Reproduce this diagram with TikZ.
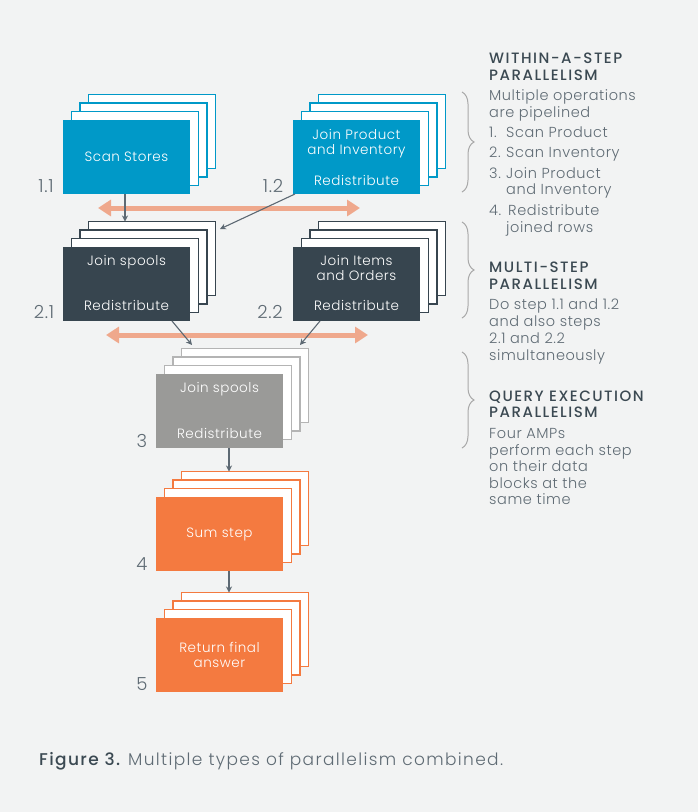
\documentclass[tikz,border=0pt]{standalone}
\usepackage{fontspec}
\IfFontExistsTF{Poppins Light}{%
  \IfFontExistsTF{Poppins Medium}%
    {\setmainfont{Poppins}[UprightFont=* Light, BoldFont=* Medium]}%
    {\setmainfont{Poppins}[UprightFont=* Light]}%
}{\setmainfont{Poppins}}
\usetikzlibrary{arrows.meta,decorations.pathreplacing}

\definecolor{bg}{HTML}{F2F3F3}
\definecolor{stepblue}{HTML}{0099C8}
\definecolor{stepdark}{HTML}{37454F}
\definecolor{stepgrey}{HTML}{9A9A98}
\definecolor{stepgreyline}{HTML}{B4B4B4}
\definecolor{steporange}{HTML}{F47A40}
\definecolor{salmon}{HTML}{EFA88C}
\definecolor{arrowgray}{HTML}{5D6973}
\definecolor{labelgray}{HTML}{5F6B74}
\definecolor{textgray}{HTML}{5F6B74}
\definecolor{headgray}{HTML}{3B4952}
\definecolor{bracegray}{HTML}{A9A9A9}

\tikzset{
  layerbox/.style={line width=1.8pt, fill=white, minimum width=127pt, minimum height=74pt,
    anchor=north west, inner sep=0pt, outer sep=0pt},
  frontbox/.style={minimum width=127pt, minimum height=74pt, anchor=north west,
    inner sep=0pt, outer sep=0pt},
  boxtext/.style={text=white, font=\fontsize{13.5}{15.5}\selectfont\addfontfeature{LetterSpace=4},
    anchor=base, inner sep=0pt},
  steplabel/.style={text=labelgray, font=\fontsize{18}{20}\selectfont\addfontfeature{LetterSpace=4},
    inner sep=0pt},
  flow/.style={draw=arrowgray, line width=1.1pt, -{Stealth[length=6pt,width=6pt]}},
  syncarrow/.style={draw=salmon, line width=5pt,
    {Triangle[length=13pt,width=16pt]}-{Triangle[length=13pt,width=16pt]}},
  sidebrace/.style={draw=bracegray, line width=1pt, decorate,
    decoration={brace, amplitude=12pt}},
  headtext/.style={text=headgray, font=\fontsize{15}{17}\selectfont\bfseries\addfontfeature{LetterSpace=10},
    anchor=base west, inner sep=0pt},
  bodytext/.style={text=textgray, font=\fontsize{14.5}{17}\selectfont\addfontfeature{LetterSpace=4},
    anchor=base west, inner sep=0pt},
}

% a step drawn as a front box with three copies stacked behind it
\newcommand\drawstack[5]{% name, left, top, fill, border
  \foreach \k in {3,2,1}{
    \node[layerbox, draw=#5] (#1-l\k) at ({#2+8.5*\k},{#3-8.5*\k}) {};
  }
  \node[frontbox, fill=#4] (#1) at (#2,#3) {};
}

\begin{document}
\begin{tikzpicture}[x=1pt,y=-1pt]
\fill[bg] (0,0) rectangle (698,812);
\useasboundingbox (0,0) rectangle (698,812);

% ---- step stacks
\drawstack{s11}{63}{120}{stepblue}{stepblue}
\drawstack{s12}{293}{120}{stepblue}{stepblue}
\drawstack{s21}{63}{247}{stepdark}{stepdark}
\drawstack{s22}{293}{247}{stepdark}{stepdark}
\drawstack{s3}{156}{374}{stepgrey}{stepgreyline}
\drawstack{s4}{156}{497}{steporange}{steporange}
\drawstack{s5}{156}{618}{steporange}{steporange}

% ---- texts in the boxes
\node[boxtext, anchor=center] (t11) at (s11.center) {Scan Stores};
\node[boxtext] (t12a) at ([yshift=-19pt]s12.north) {Join Product};
\node[boxtext] (t12b) at ([yshift=-34pt]s12.north) {and Inventory};
\node[boxtext] (t12c) at ([yshift=-65pt]s12.north) {Redistribute};
\node[boxtext] (t21a) at ([yshift=-18pt]s21.north) {Join spools};
\node[boxtext] (t21b) at ([yshift=-63pt]s21.north) {Redistribute};
\node[boxtext] (t22a) at ([yshift=-18pt]s22.north) {Join Items};
\node[boxtext] (t22b) at ([yshift=-33pt]s22.north) {and Orders};
\node[boxtext] (t22c) at ([yshift=-63pt]s22.north) {Redistribute};
\node[boxtext] (t3a) at ([yshift=-18pt]s3.north) {Join spools};
\node[boxtext] (t3b) at ([yshift=-64pt]s3.north) {Redistribute};
\node[boxtext, anchor=center] (t4) at (s4.center) {Sum step};
\node[boxtext, anchor=center, align=center] (t5) at (s5.center) {Return final\\answer};

% ---- step numbers
\node[steplabel] (n11) at (46,186) {1.1};
\node[steplabel] (n12) at (273,186) {1.2};
\node[steplabel] (n21) at (44,312) {2.1};
\node[steplabel] (n22) at (270,312) {2.2};
\node[steplabel] (n3) at (142,441) {3};
\node[steplabel] (n4) at (142,564) {4};
\node[steplabel] (n5) at (142,684) {5};

% ---- simultaneous steps
\coordinate (sa1) at (98,208);
\coordinate (sb1) at (360,208);
\coordinate (sa2) at (106,335);
\coordinate (sb2) at (368,335);
\draw[syncarrow] (sa1) -- (sb1);
\draw[syncarrow] (sa2) -- (sb2);

% ---- data flow between steps
\coordinate (j12) at (220,229);
\coordinate (j21) at (192,345);
\coordinate (j22) at (300,345);
\draw[flow] ([xshift=-1.5pt]s11.south) -- ([xshift=-1.5pt]s11.south |- s21-l3.north);
\draw[flow] ([xshift=2pt]s12.south west) -- (j12);
\draw[flow] ([xshift=45.5pt]s21.south) -- (j21);
\draw[flow] ([xshift=-36.5pt]s22.south) -- (j22);
\draw[flow] ([xshift=9.5pt]s3.south) -- ([xshift=9.5pt]s3.south |- s4-l3.north);
\draw[flow] ([xshift=9.5pt]s4.south) -- ([xshift=9.5pt]s4.south |- s5-l3.north);

% ---- braces
\draw[sidebrace] (462,92) -- (462,192);
\draw[sidebrace] (462,222) -- (462,318);
\draw[sidebrace] (462,352) -- (462,448);

% ---- within-a-step parallelism
\node[headtext] (h1a) at (489,63) {WITHIN-A-STEP};
\node[headtext] (h1b) at (489,80) {PARALLELISM};
\node[bodytext] (b1a) at (489,100) {Multiple operations};
\node[bodytext] (b1b) at (489,117) {are pipelined};
\node[bodytext] (i1n) at (489,137) {1.};
\node[bodytext] (i1t) at (506,137) {Scan Product};
\node[bodytext] (i2n) at (489,157) {2.};
\node[bodytext] (i2t) at (506,157) {Scan Inventory};
\node[bodytext] (i3n) at (489,178) {3.};
\node[bodytext] (i3t) at (506,178) {Join Product};
\node[bodytext] (i3u) at (506,194) {and Inventory};
\node[bodytext] (i4n) at (489,215) {4.};
\node[bodytext] (i4t) at (508,215) {Redistribute};
\node[bodytext] (i4u) at (506,232) {joined rows};

% ---- multi-step parallelism
\node[headtext] (h2a) at (489,272) {MULTI-STEP};
\node[headtext] (h2b) at (489,289) {PARALLELISM};
\node[bodytext] (b2a) at (489,309) {Do step 1.1 and 1.2};
\node[bodytext] (b2b) at (489,326) {and also steps};
\node[bodytext] (b2c) at (489,343) {2.1 and 2.2};
\node[bodytext] (b2d) at (489,360) {simultaneously};

% ---- query execution parallelism
\node[headtext] (h3a) at (489,401) {QUERY EXECUTION};
\node[headtext] (h3b) at (489,417) {PARALLELISM};
\node[bodytext] (b3a) at (489,438) {Four AMPs};
\node[bodytext] (b3b) at (489,455) {perform each step};
\node[bodytext] (b3c) at (489,471) {on their data};
\node[bodytext] (b3d) at (489,488) {blocks at the};
\node[bodytext] (b3e) at (489,504) {same time};

% ---- caption
\node[anchor=base west, inner sep=0pt, text=textgray,
  font=\fontsize{17}{19}\selectfont\addfontfeature{LetterSpace=8}]
  (cap) at (39,765) {\textcolor{headgray}{\bfseries Figure 3.} Multiple types of parallelism combined.};
\end{tikzpicture}
\end{document}
